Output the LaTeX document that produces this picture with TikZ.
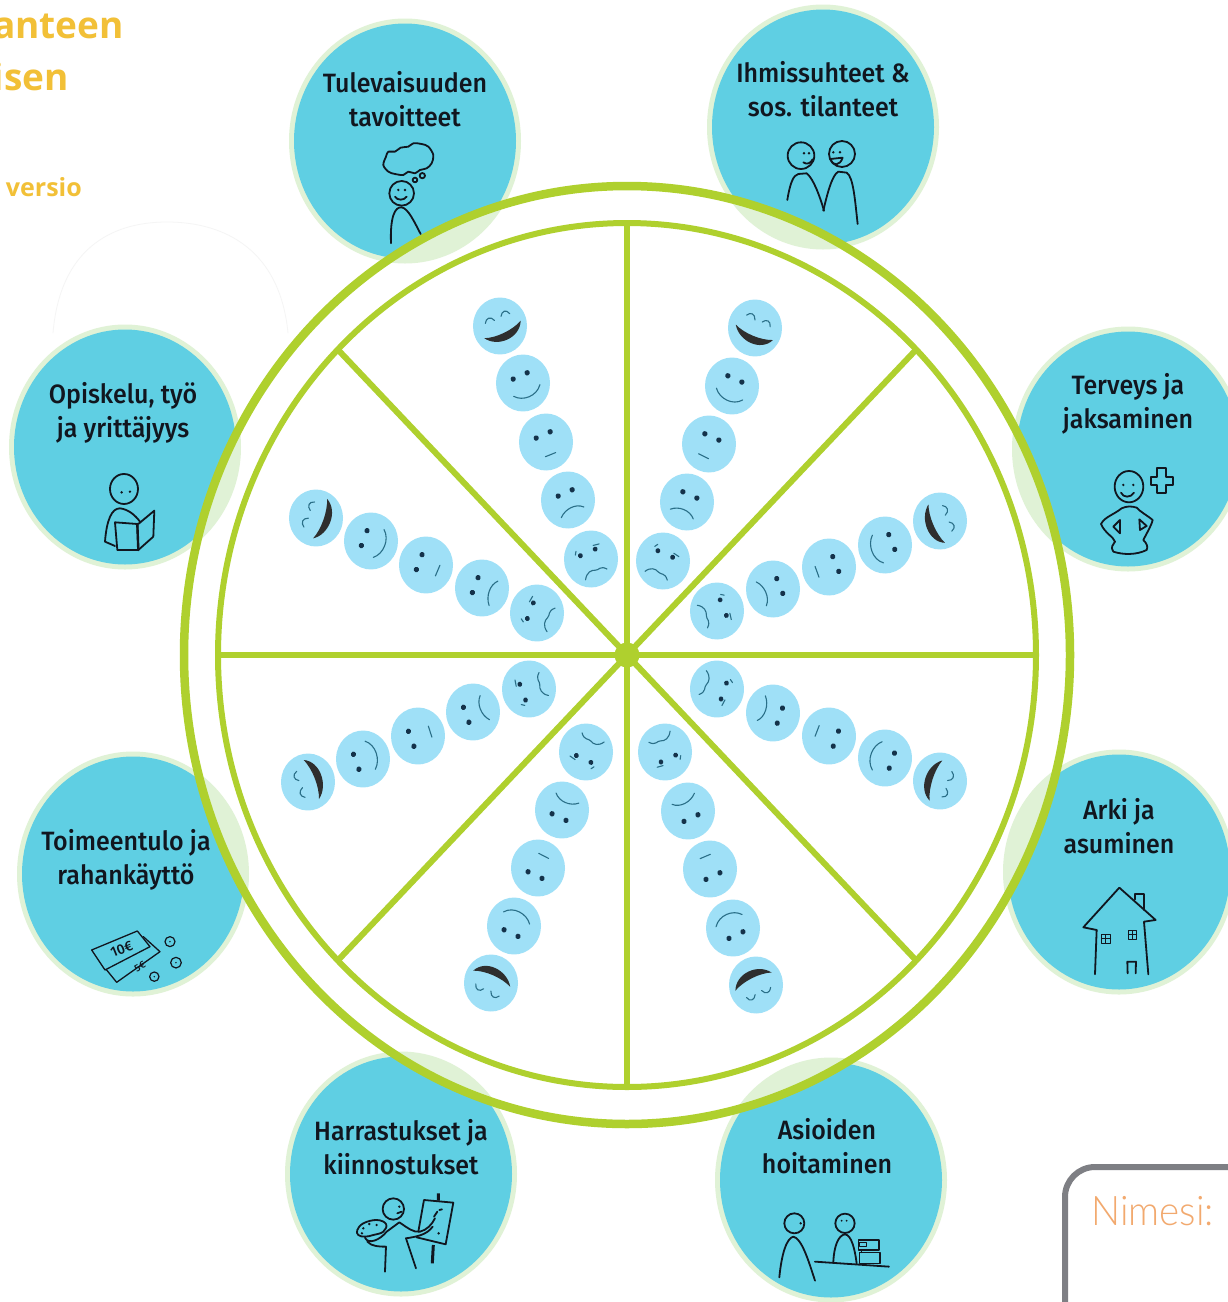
\documentclass[tikz,border=0pt]{standalone}
\usepackage{fontspec}
\setmainfont{Fira Sans}[UprightFont=* Medium]
\newfontfamily\titlefont{Open Sans}[UprightFont=* Bold]
\newfontfamily\namefont{Lato Light}
\definecolor{ringgreen}{HTML}{AFD02E}
\definecolor{palegreen}{HTML}{E0F2D6}
\definecolor{discblue}{HTML}{5FCFE3}
\definecolor{faceblue}{HTML}{9FE0F7}
\definecolor{faceline}{HTML}{2A6F88}
\definecolor{eyedark}{HTML}{14324A}
\definecolor{inkdark}{HTML}{11161F}
\definecolor{titleorange}{HTML}{F2C037}
\definecolor{nameorange}{HTML}{F2A96E}
\definecolor{boxgrey}{HTML}{7E7F84}
\tikzset{
  paledisc/.style={fill=palegreen,draw=none},
  bluedisc/.style={fill=discblue,draw=none},
  lbl/.style={font=\fontsize{25}{32}\selectfont,text=inkdark,align=center,inner sep=0pt,transform shape,yscale=1.06},
  icon/.style={draw=inkdark,line width=1.8pt,line cap=round,line join=round},
  iconthick/.style={draw=inkdark,line width=3pt,line cap=butt},
  dot/.style={fill=inkdark,draw=none},
  mouth/.style={draw=faceline,line width=1.1pt,line cap=round},
}
% position x, y, rotation, mood (0 laugh, 1 smile, 2 neutral, 3 frown, 4 angry)
\newcommand\facepic[4]{%
  \begin{scope}[shift={(#1,#2)},yscale=1.055,rotate=#3]
    \fill[faceblue] (0,0) circle[radius=27];
    \ifcase#4\relax
      \fill[black!82] (-19,4.5) .. controls (-8,9) and (10,8.5) .. (21,3.5) .. controls (14,18.5) and (-10,18) .. cycle;
      \draw[mouth] (-12.5,-8) .. controls (-10,-12.5) and (-5,-12.5) .. (-3,-7);
      \draw[mouth] (4.5,-8) .. controls (7,-12.5) and (12,-12.5) .. (13.5,-7);
    \or
      \fill[eyedark] (-7.6,-7.3) circle[radius=2.6] (7.6,-7.3) circle[radius=2.6];
      \draw[mouth] (-13.5,8) .. controls (-7,16) and (8,17) .. (15,8);
    \or
      \fill[eyedark] (-7.6,-7.3) circle[radius=2.6] (7.6,-7.3) circle[radius=2.6];
      \draw[mouth] (-6,12.6) -- (5,13);
    \or
      \fill[eyedark] (-7.6,-7.3) circle[radius=2.6] (7.6,-7.3) circle[radius=2.6];
      \draw[mouth] (-12.7,12.8) .. controls (-6,6.5) and (6,6) .. (12,12.3);
    \else
      \fill[eyedark] (-8.5,-7) circle[radius=2.4] (7.5,-7) circle[radius=2.4];
      \draw[mouth] (-12.7,16) .. controls (-9,10) and (-4,9.5) .. (0,11.5) .. controls (3,13) and (6,9) .. (11,15);
      \draw[mouth] (-13,-9.5) -- (-11,-12.5);
      \draw[mouth] (7,-11) -- (13,-10);
    \fi
  \end{scope}}
\begin{document}
\begin{tikzpicture}[x=1pt,y=-1pt]
\clip (0,0) rectangle (1228,1302);
\useasboundingbox (0,0) rectangle (1228,1302);
\fill[white] (0,0) rectangle (1228,1302);

% header fragments
\node[anchor=base east,inner sep=0pt,text=titleorange,font=\titlefont\fontsize{37}{37}\selectfont] (title1) at (124,38) {anteen};
\node[anchor=base east,inner sep=0pt,text=titleorange,font=\titlefont\fontsize{37}{37}\selectfont] (title2) at (69,90) {isen};
\node[anchor=base east,inner sep=0pt,text=titleorange,font=\titlefont\fontsize{25}{25}\selectfont] (title3) at (82,196) {versio};

% faint arc
\draw[black!4,line width=0.8pt] (53,333) .. controls (60,250) and (110,222) .. (167,222) .. controls (225,222) and (280,250) .. (288,333);

% discs
\newcommand\alldiscs[1]{%
  \foreach \cx/\cy in {405/141,823/127,1128/449,1119/872,831/1180,401/1174,133/874,125/447}{
    \fill[#1] (\cx,\cy) ellipse[x radius=116,y radius=122.5];}}
\alldiscs{paledisc}
\foreach \cx/\cy in {405/141,823/127,1128/449,1119/872,831/1180,401/1174,133/874,125/447}{
  \fill[bluedisc] (\cx,\cy) ellipse[x radius=111,y radius=117.5];}

% wheel body
\fill[white] (627,655) ellipse[x radius=443,y radius=469];
\begin{scope}
  \clip (627,655) ellipse[x radius=443,y radius=469];
  \alldiscs{paledisc}
\end{scope}
\fill[white] (627,655) ellipse[x radius=409,y radius=432];
\draw[ringgreen,line width=8.5pt] (627,655) ellipse[x radius=443,y radius=469];
\draw[ringgreen,line width=6pt] (627,655) ellipse[x radius=409,y radius=432];
\node[circle,fill=ringgreen,minimum size=25pt,inner sep=0pt] (hub) at (627,655) {};
\foreach \a in {0,45,...,315}{
  \coordinate (rim\a) at ({627+409*cos(\a)},{655+432*sin(\a)});
  \draw[ringgreen,line width=6pt] (hub.center) -- (rim\a);}

% faces: outer to inner along each arm
\foreach \m/\x/\y in {0/500/326,1/523/383,2/546/442,3/568/500,4/591/559}{\facepic{\x}{\y}{23}{\m}}
\foreach \m/\x/\y in {0/755/328,1/732/386,2/709/444,3/687/502,4/663/561}{\facepic{\x}{\y}{-23}{\m}}
\foreach \m/\x/\y in {0/316/518,1/371/541,2/426/565,3/482/588,4/537/613}{\facepic{\x}{\y}{68}{\m}}
\foreach \m/\x/\y in {0/940/521,1/885/545,2/829/567,3/773/589,4/717/611}{\facepic{\x}{\y}{-67}{\m}}
\foreach \m/\x/\y in {0/308/782,1/363/759,2/418/736,3/473/712,4/529/689}{\facepic{\x}{\y}{111}{\m}}
\foreach \m/\x/\y in {0/940/781,1/885/758,2/829/736,3/773/713,4/717/689}{\facepic{\x}{\y}{-110}{\m}}
\foreach \m/\x/\y in {0/491/983,1/514/926,2/538/868,3/562/810,4/586/752}{\facepic{\x}{\y}{156}{\m}}
\foreach \m/\x/\y in {0/756/985,1/733/928,2/710/869,3/688/811,4/665/752}{\facepic{\x}{\y}{204}{\m}}

% labels
\node[lbl] (lblA) at (405,99) {Tulevaisuuden\\tavoitteet};
\node[lbl] (lblB) at (823,89) {Ihmissuhteet \&\\sos. tilanteet};
\node[lbl] (lblC) at (1128,404) {Terveys ja\\jaksaminen};
\node[lbl] (lblD) at (1119,826) {Arki ja\\asuminen};
\node[lbl] (lblE) at (827,1146) {Asioiden\\hoitaminen};
\node[lbl] (lblF) at (401,1147) {Harrastukset ja\\kiinnostukset};
\node[lbl] (lblG) at (126,860) {Toimeentulo ja\\rahankäyttö};
\node[lbl] (lblH) at (123,413) {Opiskelu, työ\\ja yrittäjyys};

% icon: thinking person
\begin{scope}[shift={(280,0)},scale=0.3333]
  \draw[icon] plot[smooth cycle,tension=0.55] coordinates {(310,495)(318,470)(325,455)(345,455)(362,443)(385,440)(400,430)(425,432)(445,440)(460,465)(455,490)(440,505)(420,510)(405,520)(385,515)(370,525)(345,522)(325,515)};
  \draw[icon] (405,540) circle[radius=7] (427,527) circle[radius=8];
  \draw[icon] (365,580) circle[radius=37];
  \fill[dot] (355,570) circle[radius=4] (375,570) circle[radius=4];
  \draw[icon] (345,590) .. controls (352,602) and (372,602) .. (380,590);
  \draw[icon] (333,730) .. controls (330,650) and (345,620) .. (365,622) .. controls (385,625) and (405,670) .. (422,702);
\end{scope}

% icon: two people
\begin{scope}[shift={(690,0)},scale=0.3333]
  \draw[icon] (333,467) circle[radius=40] (456,462) circle[radius=39];
  \fill[dot] (342,460) circle[radius=4] (357,460) circle[radius=4] (430,457) circle[radius=4] (450,457) circle[radius=4];
  \draw[icon] (340,487) .. controls (350,495) and (362,490) .. (368,478);
  \draw[icon] (422,477) .. controls (428,500) and (450,498) .. (458,473) -- cycle;
  \draw[icon] (292,600) .. controls (300,550) and (310,525) .. (325,522) -- (350,520) .. controls (370,535) and (390,590) .. (402,632);
  \draw[icon] (400,632) .. controls (410,590) and (425,525) .. (445,515) -- (470,518) .. controls (490,530) and (495,600) .. (503,672);
\end{scope}

% icon: health
\begin{scope}[shift={(1000,320)},scale=0.3333]
  \draw[icon] (387,500) ellipse[x radius=43,y radius=47];
  \fill[dot] (370,495) circle[radius=4] (400,495) circle[radius=4];
  \draw[icon] (363,518) .. controls (370,534) and (392,534) .. (402,518);
  \draw[icon] (472,445) -- (498,445) -- (498,470) -- (520,470) -- (520,495) -- (498,495) -- (498,520) -- (472,520) -- (472,495) -- (452,495) -- (452,470) -- (472,470) -- cycle;
  \draw[icon] (365,565) .. controls (340,585) and (315,590) .. (303,612) .. controls (315,640) and (340,650) .. (345,665) .. controls (340,675) and (330,680) .. (340,695) .. controls (370,705) and (410,705) .. (440,690) .. controls (445,680) and (440,670) .. (430,660) .. controls (440,640) and (455,615) .. (458,600) .. controls (440,585) and (420,575) .. (410,563) .. controls (395,558) and (380,558) .. (365,565);
  \draw[icon] (360,600) -- (340,620) -- (360,640) -- cycle;
  \draw[icon] (418,598) -- (440,618) -- (420,630) -- cycle;
\end{scope}

% icon: house
\begin{scope}[shift={(1000,740)},scale=0.3333]
  \draw[icon] (290,570) -- (250,562) -- (358,443) -- (467,540) -- (432,545) -- (445,703);
  \draw[icon] (290,570) -- (285,703);
  \draw[icon] (405,478) -- (405,463) -- (432,463) -- (432,510);
  \draw[icon,line width=1pt] (305,585) rectangle (332,610) (318,585) -- (318,610) (305,597) -- (332,597);
  \draw[icon,line width=1pt] (385,572) rectangle (410,598) (397,572) -- (397,598) (385,585) -- (410,585);
  \draw[icon] (383,700) -- (382,665) -- (408,665) -- (407,700);
\end{scope}

% icon: counter service
\begin{scope}[shift={(710,1050)},scale=0.3333]
  \draw[icon] (253,520) circle[radius=30] (405,520) circle[radius=29];
  \fill[dot] (272,520) circle[radius=4] (395,512) circle[radius=3] (410,512) circle[radius=3];
  \draw[icon] (208,682) .. controls (215,610) and (230,565) .. (250,560) .. controls (275,565) and (295,630) .. (315,692);
  \draw[icon] (370,635) .. controls (372,590) and (385,555) .. (405,553) .. controls (425,555) and (435,600) .. (440,640);
  \draw[icon] (315,635) -- (537,650);
  \draw[icon,line width=1.1pt] (448,608) rectangle (510,640) (445,570) rectangle (507,600) (448,578) rectangle (470,590) (455,600) -- (455,608);
\end{scope}

% icon: painter
\begin{scope}[shift={(280,1050)},scale=0.3333]
  \draw[icon] (340,477) circle[radius=32];
  \fill[dot] (358,470) circle[radius=4];
  \draw[icon] (352,490) -- (365,485);
  \draw[icon] plot[smooth cycle,tension=0.7] coordinates {(232,540)(250,520)(290,510)(318,522)(310,545)(280,555)(255,560)(235,555)};
  \fill[dot] (250,535) circle[radius=4] (268,522) circle[radius=4] (290,525) circle[radius=4] (246,550) circle[radius=4];
  \draw[icon] (255,563) .. controls (265,585) and (300,570) .. (320,545) -- (358,517) .. controls (385,535) and (400,548) .. (420,545) .. controls (440,540) and (455,525) .. (465,505);
  \draw[icon] (378,565) .. controls (410,560) and (440,555) .. (458,530);
  \draw[icon] (262,575) .. controls (275,590) and (300,590) .. (318,590) -- (315,665);
  \draw[icon] (378,565) -- (408,655);
  \draw[icon] (415,545) -- (432,450) -- (520,458) -- (497,583) -- (410,562);
  \draw[iconthick] (475,430) -- (475,452) (460,585) -- (457,640);
  \draw[icon] (462,500) -- (472,485) (478,480) -- (486,478);
  \fill[dot] (476,550) circle[radius=4];
\end{scope}

% icon: money
\begin{scope}[shift={(10,750)},scale=0.3333]
  \draw[icon,line width=1.3pt] (400,560) -- (450,605) -- (320,697) -- (290,660);
  \draw[icon,line width=1.3pt] (245,600) -- (382,543) -- (420,590) -- (285,660) -- cycle;
  \node[rotate=22,inner sep=0pt,text=inkdark,font=\fontsize{14}{14}\selectfont] (note10) at (335,597) {10€};
  \node[rotate=30,inner sep=0pt,text=inkdark,font=\fontsize{10}{10}\selectfont] (note5) at (390,650) {5€};
  \draw[icon,line width=1.2pt] (480,575) circle[radius=15] (498,638) circle[radius=16] (433,680) circle[radius=14];
  \fill[dot] (480,575) circle[radius=2.5] (498,638) circle[radius=2.5] (433,680) circle[radius=2.5];
\end{scope}

% icon: reader
\begin{scope}[shift={(0,320)},scale=0.3333]
  \draw[icon] (372,507) ellipse[x radius=42,y radius=45];
  \fill[dot] (365,517) circle[radius=4] (390,515) circle[radius=4];
  \draw[icon] (345,678) -- (315,665) .. controls (320,600) and (335,565) .. (360,565) .. controls (385,568) and (405,585) .. (420,605);
  \draw[icon] (345,607) -- (412,612) -- (415,690) -- (352,690) -- cycle;
  \draw[icon] (415,612) -- (463,572) -- (460,650) -- (415,690);
  \draw[icon,line width=2.4pt] (412,612) -- (415,690);
\end{scope}

% name box
\draw[boxgrey,line width=6pt,rounded corners=30pt] (1065,1340) -- (1065,1167) -- (1290,1167);
\node[anchor=base west,inner sep=0pt,text=nameorange,font=\namefont\fontsize{38.5}{40}\selectfont,transform shape,yscale=1.06] (nimesi) at (1091,1225) {Nimesi:};
\end{tikzpicture}
\end{document}
